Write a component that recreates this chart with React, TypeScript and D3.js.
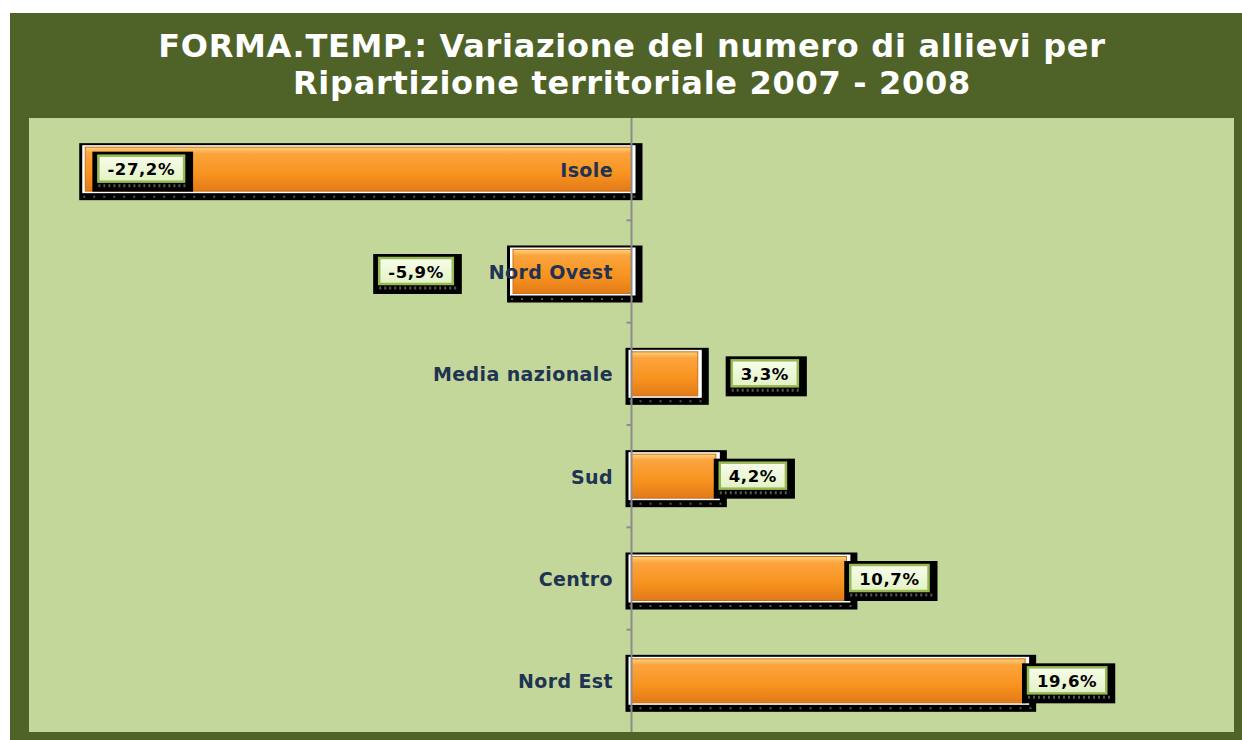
import React, { useEffect, useRef } from 'react'
import * as d3 from 'd3'

const categories = ['Isole', 'Nord Ovest', 'Media nazionale', 'Sud', 'Centro', 'Nord Est']
const values = [-27.2, -5.9, 3.3, 4.2, 10.7, 19.6]
const valueLabels = ['-27,2%', '-5,9%', '3,3%', '4,2%', '10,7%', '19,6%']
const titleLines = ['FORMA.TEMP.: Variazione del numero di allievi per', 'Ripartizione territoriale 2007 - 2008']

// where Excel ended up putting the data labels, in px from the bar end
const labelDx = [56, -97, 67, 37, 43, 42]

const W = 1242
const H = 740
const plot = { left: 29, right: 1234, top: 118, bottom: 732 }

export default function App() {
  const ref = useRef<SVGSVGElement>(null)

  useEffect(() => {
    const svg = d3.select(ref.current)
    svg.selectAll('*').remove()

    const defs = svg.append('defs')
    const grad = defs.append('linearGradient').attr('id', 'barGrad').attr('x1', 0).attr('y1', 0).attr('x2', 0).attr('y2', 1)
    grad.append('stop').attr('offset', '0%').attr('stop-color', '#fdd27c')
    grad.append('stop').attr('offset', '14%').attr('stop-color', '#fba43e')
    grad.append('stop').attr('offset', '60%').attr('stop-color', '#f8931f')
    grad.append('stop').attr('offset', '100%').attr('stop-color', '#e27a18')

    const lgrad = defs.append('linearGradient').attr('id', 'lblGrad').attr('x1', 0).attr('y1', 0).attr('x2', 0).attr('y2', 1)
    lgrad.append('stop').attr('offset', '0%').attr('stop-color', '#f7fdeb')
    lgrad.append('stop').attr('offset', '100%').attr('stop-color', '#e3f2c4')

    // frame
    svg.append('rect').attr('x', 10).attr('y', 13).attr('width', W - 10).attr('height', H - 13).attr('fill', '#4f6228')
    svg.append('rect')
      .attr('x', plot.left).attr('y', plot.top)
      .attr('width', plot.right - plot.left).attr('height', plot.bottom - plot.top)
      .attr('fill', '#c4d79b')

    svg.selectAll('.title')
      .data(titleLines)
      .enter()
      .append('text')
      .attr('class', 'title')
      .attr('x', 632)
      .attr('y', (d, i) => 57 + i * 37)
      .attr('text-anchor', 'middle')
      .attr('font-family', 'DejaVu Sans')
      .attr('font-weight', 'bold')
      .attr('font-size', 32)
      .attr('letter-spacing', 0.7)
      .attr('fill', '#ffffff')
      .text(d => d)

    const x = d3.scaleLinear().domain([-30, 30]).range([plot.left, plot.right])
    const y = d3.scaleBand().domain(categories).range([plot.top, plot.bottom])
    const barH = 44
    const x0 = x(0)

    const rows = categories.map((c, i) => ({ c, v: values[i], lbl: valueLabels[i], dx: labelDx[i] }))

    const bar = svg.selectAll('.bar').data(rows).enter().append('g').attr('class', 'bar')
    const bx = (d: any) => Math.min(x(d.v), x0)
    const bw = (d: any) => Math.abs(x(d.v) - x0)
    const by = (d: any) => y(d.c)! + y.bandwidth() / 2 - barH / 2

    bar.append('rect')
      .attr('x', d => bx(d) - 6).attr('y', d => by(d) - 4)
      .attr('width', d => bw(d) + 17).attr('height', barH + 13)
      .attr('fill', '#000')
    bar.append('line')
      .attr('x1', d => bx(d) - 2).attr('x2', d => bx(d) + bw(d) + 8)
      .attr('y1', d => by(d) + barH + 5.5).attr('y2', d => by(d) + barH + 5.5)
      .attr('stroke', '#555').attr('stroke-width', 2).attr('stroke-dasharray', '2 8')
    bar.append('rect')
      .attr('x', d => bx(d) - 3).attr('y', d => by(d) - 2)
      .attr('width', d => bw(d) + 7).attr('height', barH + 4)
      .attr('fill', '#fff')
    bar.append('rect')
      .attr('x', bx).attr('y', by)
      .attr('width', bw).attr('height', barH)
      .attr('fill', 'url(#barGrad)')
      .attr('stroke', '#c9701a').attr('stroke-width', 1)

    // zero axis
    svg.append('line')
      .attr('x1', x0).attr('x2', x0).attr('y1', plot.top).attr('y2', plot.bottom)
      .attr('stroke', '#8c8c8c').attr('stroke-width', 2)
    svg.selectAll('.tick')
      .data(categories.slice(1))
      .enter()
      .append('line')
      .attr('x1', x0 - 5).attr('x2', x0)
      .attr('y1', d => y(d)!).attr('y2', d => y(d)!)
      .attr('stroke', '#8c8c8c').attr('stroke-width', 2)

    // category names
    svg.selectAll('.cat')
      .data(rows)
      .enter()
      .append('text')
      .attr('x', 613)
      .attr('y', d => y(d.c)! + y.bandwidth() / 2 + 7.5)
      .attr('text-anchor', 'end')
      .attr('font-family', 'DejaVu Sans')
      .attr('font-weight', 'bold')
      .attr('font-size', 19)
      .attr('letter-spacing', 0.4)
      .attr('fill', '#1f3352')
      .text(d => d.c)

    // data labels
    const lab = svg.selectAll('.lab').data(rows).enter().append('g')
    lab.each(function (d) {
      const g = d3.select(this)
      const cx = x(d.v) + d.dx
      const cy = y(d.c)! + y.bandwidth() / 2
      const t = g.append('text')
        .attr('x', cx).attr('y', cy + 6)
        .attr('text-anchor', 'middle')
        .attr('font-family', 'DejaVu Sans')
        .attr('font-weight', 'bold')
        .attr('font-size', 16.5)
        .attr('letter-spacing', 0.6)
        .attr('fill', '#000')
        .text(d.lbl)
      const tw = (t.node() as SVGTextElement).getComputedTextLength()
      const iw = tw + 18
      const ih = 26
      const ix = cx - iw / 2
      const iy = cy - 13.5
      g.insert('rect', 'text').attr('x', ix - 6).attr('y', iy - 4).attr('width', iw + 15).attr('height', ih + 14).attr('fill', '#000')
      g.insert('line', 'text')
        .attr('x1', ix).attr('x2', ix + iw + 4)
        .attr('y1', iy + ih + 4).attr('y2', iy + ih + 4)
        .attr('stroke', '#555').attr('stroke-width', 3).attr('stroke-dasharray', '2 3')
      g.insert('rect', 'text').attr('x', ix).attr('y', iy).attr('width', iw).attr('height', ih)
        .attr('fill', 'url(#lblGrad)').attr('stroke', '#98b954').attr('stroke-width', 2.5)
    })
  }, [])

  return (
    <svg
      ref={ref}
      width={W}
      height={H}
      style={{ position: 'absolute', left: 0, top: 0, background: '#fff' }}
    ></svg>
  )
}
